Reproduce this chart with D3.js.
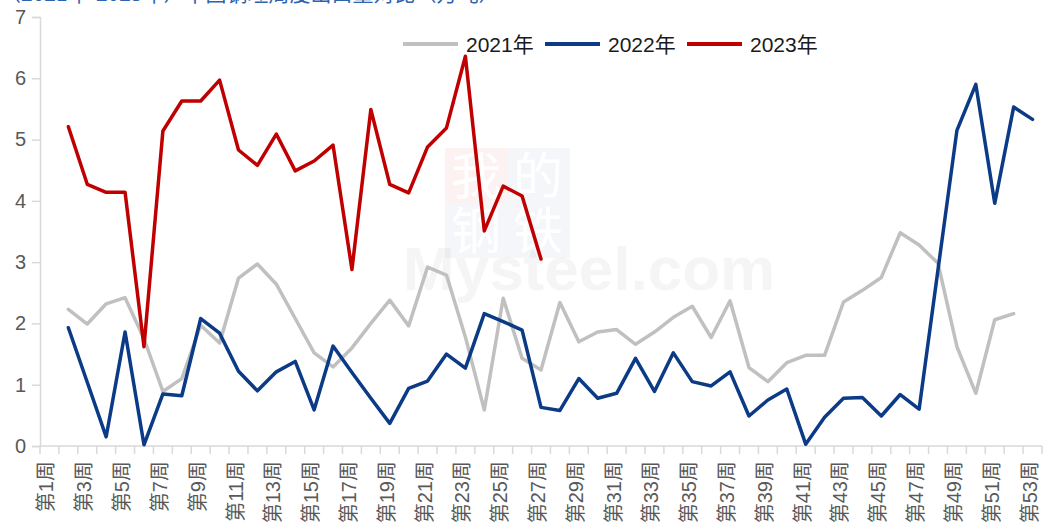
<!DOCTYPE html>
<html>
<head>
<meta charset="utf-8">
<script src="https://cdn.jsdelivr.net/npm/d3@7"></script>
<style>
  body { margin: 0; background: #fff; }
  svg { display: block; font-family: "Liberation Sans", Arial, "Noto Sans CJK SC", sans-serif; }
</style>
</head>
<body>
<div id="container"></div>
<script>
// weeks 1..53, week 1 has no value in the source chart
const weeks = d3.range(1, 54);
const weekLabels = weeks.map((w) => "第" + w + "周");

const data2021 = [null,
  2.23, 1.99, 2.32, 2.42, 1.75, 0.89, 1.10, 1.97, 1.68, 2.74,
  2.97, 2.64, 2.08, 1.52, 1.29, 1.60, 2.00, 2.38, 1.96, 2.92,
  2.79, 1.78, 0.59, 2.41, 1.43, 1.24, 2.34, 1.70, 1.86, 1.90,
  1.66, 1.86, 2.10, 2.28, 1.77, 2.37, 1.28, 1.05, 1.36, 1.48,
  1.48, 2.35, 2.54, 2.75, 3.48, 3.28, 2.98, 1.62, 0.86, 2.06,
  2.16];

const data2022 = [null,
  1.93, 1.04, 0.15, 1.86, 0.02, 0.85, 0.82, 2.08, 1.84, 1.22,
  0.90, 1.21, 1.38, 0.59, 1.63, 1.20, 0.78, 0.37, 0.94, 1.06,
  1.50, 1.27, 2.16, 2.03, 1.89, 0.63, 0.58, 1.10, 0.78, 0.86,
  1.43, 0.89, 1.52, 1.05, 0.98, 1.21, 0.49, 0.75, 0.93, 0.03,
  0.47, 0.78, 0.79, 0.49, 0.84, 0.60, 2.88, 5.15, 5.90, 3.96,
  5.53, 5.33];

const data2023 = [null,
  5.21, 4.27, 4.14, 4.14, 1.62, 5.14, 5.63, 5.63, 5.97, 4.83,
  4.58, 5.09, 4.49, 4.65, 4.91, 2.88, 5.49, 4.27, 4.13, 4.88,
  5.19, 6.36, 3.51, 4.24, 4.08, 3.05];

const seriesNames = ["2021年", "2022年", "2023年"];
const seriesColors = ["#c0c0c0", "#0b3a86", "#c00000"];
const yTicks = [0, 1, 2, 3, 4, 5, 6, 7];

const width = 1043, height = 528;

const svg = d3.select("#container")
  .append("svg")
  .attr("width", width)
  .attr("height", height);

// title, cut off at the top edge like the reference
svg.append("text")
  .attr("x", 0)
  .attr("y", 1)
  .attr("fill", "#2e63b0")
  .style("font-size", "21px")
  .style("font-family", "Noto Sans CJK SC")
  .text("（2021年-2023年）中国钢坯周度出口量对比（万吨）");

// watermark
const wm = svg.append("g");
wm.append("rect").attr("x", 445).attr("y", 148).attr("width", 62).attr("height", 55).attr("fill", "#e00000").attr("opacity", 0.05);
wm.append("rect").attr("x", 507).attr("y", 148).attr("width", 63).attr("height", 55).attr("fill", "#1f4e9a").attr("opacity", 0.05);
wm.append("rect").attr("x", 445).attr("y", 203).attr("width", 125).attr("height", 55).attr("fill", "#1f4e9a").attr("opacity", 0.05);
[["我", 476, 176], ["的", 538, 176], ["钢", 476, 231], ["铁", 538, 231]].forEach((c) => {
  wm.append("text")
    .attr("x", c[1]).attr("y", c[2])
    .attr("text-anchor", "middle").attr("dy", "0.36em")
    .attr("fill", "#fff")
    .style("font-size", "50px")
    .style("font-family", "Noto Sans CJK SC")
    .text(c[0]);
});
svg.append("text")
  .attr("x", 403).attr("y", 290)
  .attr("fill", "#000").attr("opacity", 0.035)
  .style("font-size", "62px").style("font-weight", "bold")
  .text("Mysteel.com");

const x = d3.scaleBand()
  .domain(weeks)
  .range([40, 1042]);

const y = d3.scaleLinear()
  .domain([0, 7])
  .range([446, 17]);

const xc = (w) => x(w) + x.bandwidth() / 2;

// y axis
const yAxis = svg.append("g")
  .attr("transform", "translate(40,0)")
  .call(d3.axisLeft(y).tickValues(yTicks).tickSize(8).tickPadding(6).tickFormat(d3.format("d")));
yAxis.select(".domain").attr("stroke", "#d9d9d9").attr("stroke-width", 1.5);
yAxis.selectAll(".tick line").attr("stroke", "#d9d9d9").attr("stroke-width", 1.5);
yAxis.selectAll(".tick text")
  .attr("fill", "#595959")
  .style("font-size", "20px")
  .style("font-family", "Liberation Sans");

// x axis line and tick marks at band boundaries
const xAxis = svg.append("g");
xAxis.append("line")
  .attr("x1", x.range()[0]).attr("x2", x.range()[1])
  .attr("y1", y(0)).attr("y2", y(0))
  .attr("stroke", "#d9d9d9").attr("stroke-width", 1.5);
xAxis.selectAll(".xt")
  .data(weeks.concat([54]))
  .enter()
  .append("line")
  .attr("class", "xt")
  .attr("x1", (d) => d === 54 ? x.range()[1] : x(d))
  .attr("x2", (d) => d === 54 ? x.range()[1] : x(d))
  .attr("y1", y(0)).attr("y2", y(0) + 8)
  .attr("stroke", "#d9d9d9").attr("stroke-width", 1.5);

xAxis.selectAll(".xl")
  .data(weeks.filter((w) => w % 2 === 1))
  .enter()
  .append("text")
  .attr("class", "xl")
  .attr("transform", (d) => `translate(${xc(d) - 3},${y(0) + 15}) rotate(-90)`)
  .attr("text-anchor", "end")
  .attr("dy", "0.35em")
  .attr("fill", "#595959")
  .style("font-size", "20px")
  .style("font-family", "Liberation Sans, Noto Sans CJK SC")
  .text((d) => weekLabels[d - 1]);

// lines
const line = d3.line()
  .defined((d) => d.v != null)
  .x((d) => xc(d.w))
  .y((d) => y(d.v));

[data2021, data2022, data2023].forEach((arr, i) => {
  svg.append("path")
    .datum(arr.map((v, j) => ({ w: weeks[j], v: v })))
    .attr("fill", "none")
    .attr("stroke", seriesColors[i])
    .attr("stroke-width", 3.5)
    .attr("stroke-linejoin", "round")
    .attr("stroke-linecap", "round")
    .attr("d", line);
});

// legend
const legendX = [403, 545, 687];
const legend = svg.append("g");
seriesNames.forEach((name, i) => {
  legend.append("line")
    .attr("x1", legendX[i]).attr("x2", legendX[i] + 55)
    .attr("y1", 44).attr("y2", 44)
    .attr("stroke", seriesColors[i]).attr("stroke-width", 4);
  legend.append("text")
    .attr("x", legendX[i] + 63)
    .attr("y", 52)
    .attr("fill", "#1a1a1a")
    .style("font-size", "21px")
    .text(name);
});
</script>
</body>
</html>
